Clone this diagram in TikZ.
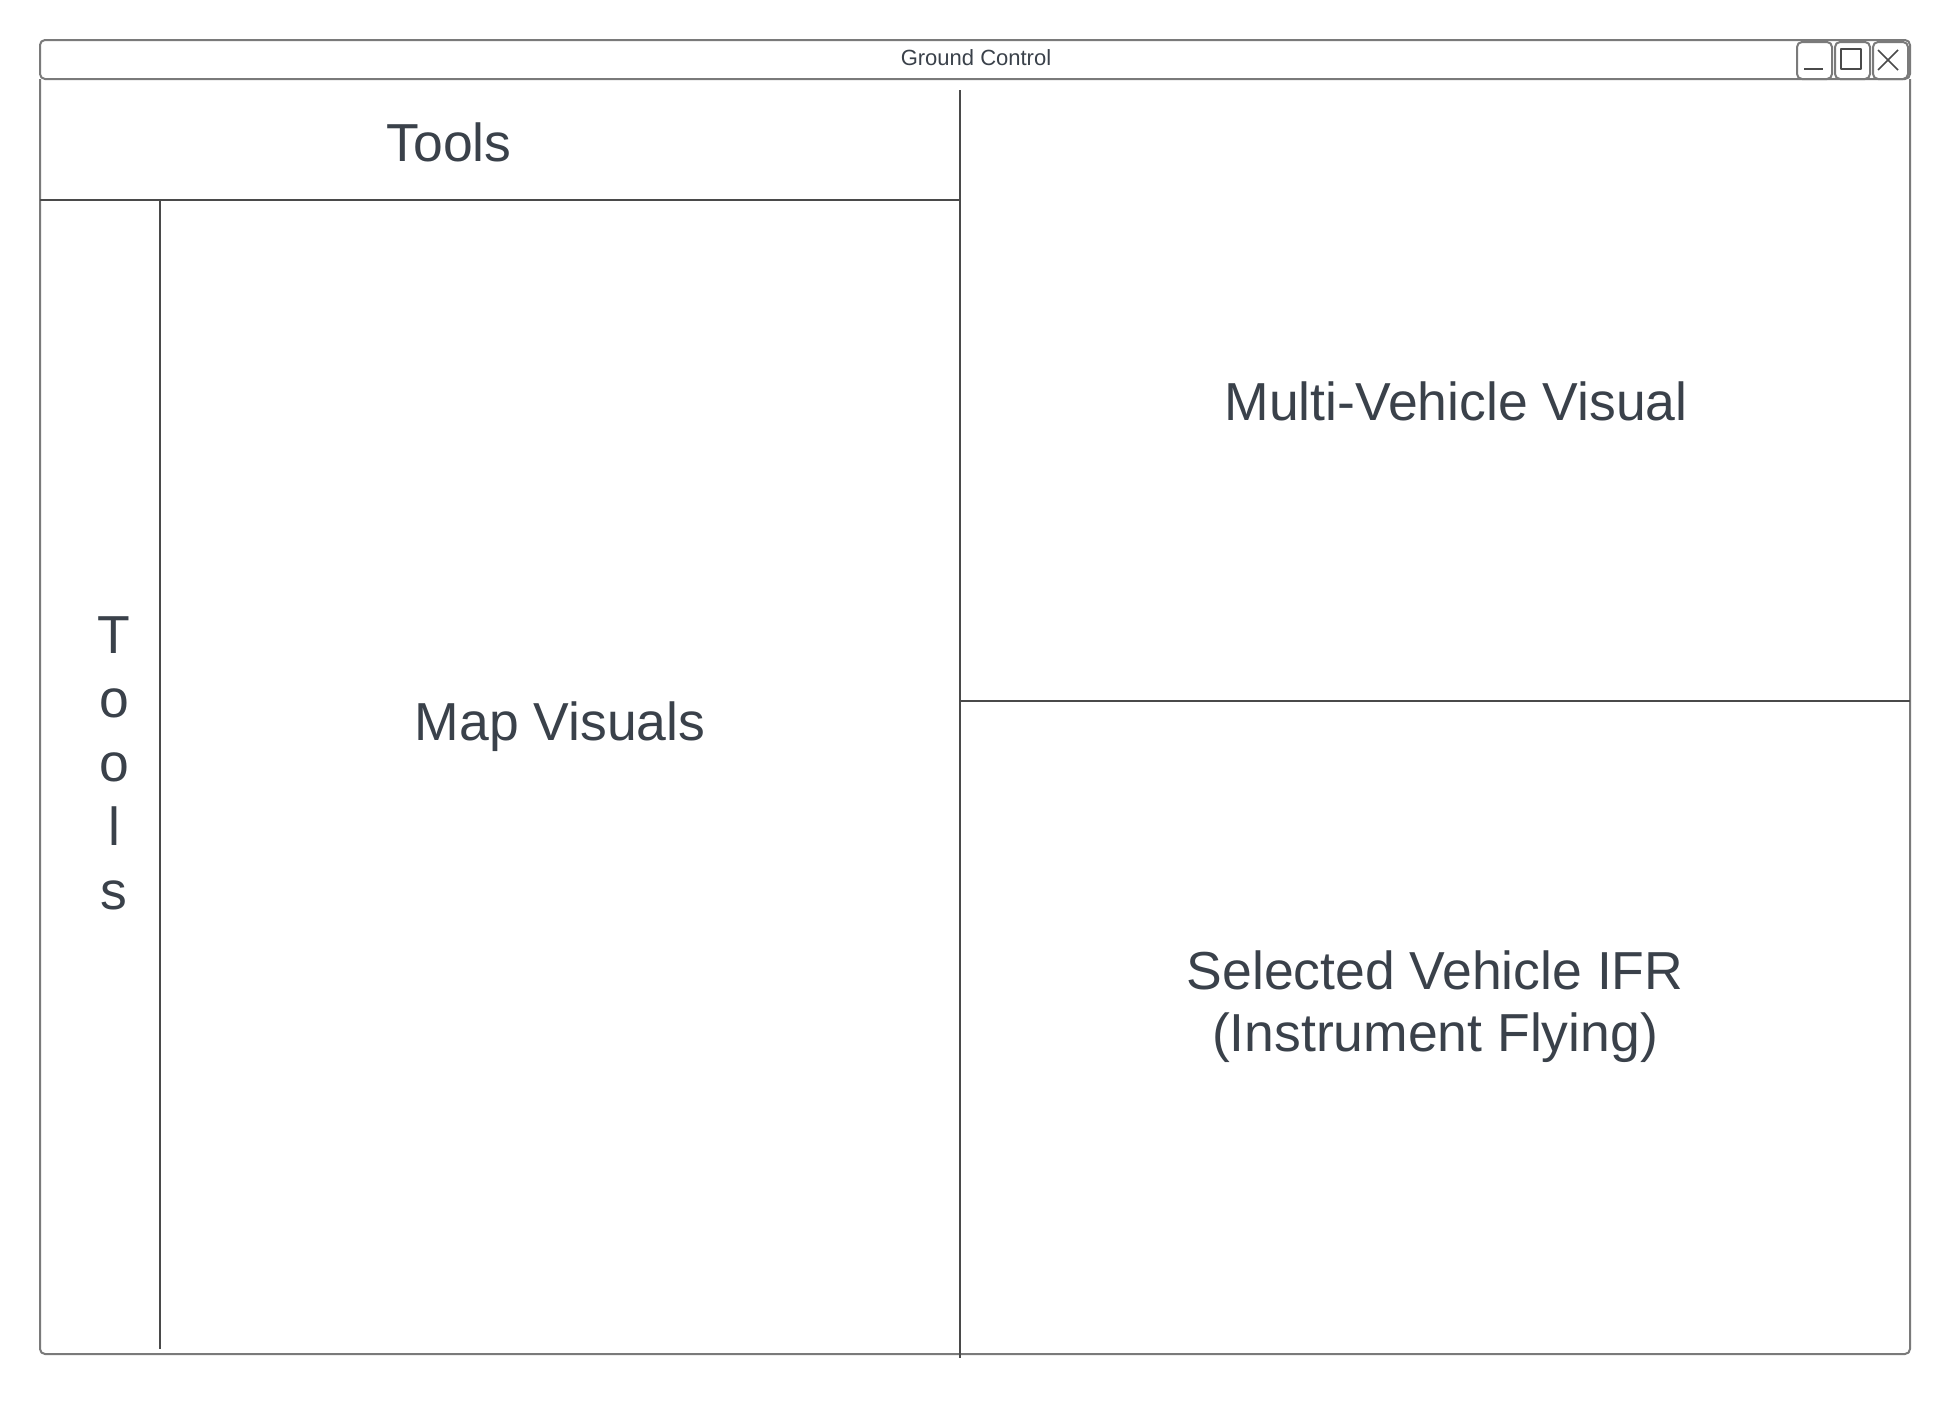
\documentclass[tikz,border=0pt]{standalone}
\usepackage{fontspec}
\setmainfont{Liberation Sans}
\usetikzlibrary{positioning}

\definecolor{ink}{HTML}{3A414A}
\definecolor{frame}{HTML}{7A7A7A}
\definecolor{rule}{HTML}{4A4A4A}

\begin{document}
\begin{tikzpicture}[x=1pt,y=-1pt,line join=round]
  \tikzstyle{pane text}=[text=ink,inner sep=0pt,font=\fontsize{53.5}{62}\selectfont]
  \tikzstyle{window}=[draw=frame,line width=2pt,rounded corners=5pt]
  \tikzstyle{divider}=[draw=rule,line width=1.5pt]
  \tikzstyle{button}=[draw=frame,fill=white,line width=2pt,rounded corners=5pt,inner sep=0pt]
  \tikzstyle{icon}=[draw=rule,line width=1.5pt]

  \fill[white] (0,0) rectangle (1951,1400);
  \useasboundingbox (0,0) rectangle (1951,1400);

  % window and title bar
  \draw[window] (40,79) -- (40,1354) -- (1910,1354) -- (1910,79);
  \draw[window] (40,40) rectangle (1910,79);
  \node[text=ink,font=\fontsize{22}{26}\selectfont,anchor=base] (title) at (976,65) {Ground Control};

  \node[button,minimum width=35pt,minimum height=37pt,anchor=north west] (minbtn) at (1796,41) {};
  \node[button,minimum width=35pt,minimum height=37pt,right=1pt of minbtn] (maxbtn) {};
  \node[button,minimum width=35pt,minimum height=37pt,right=1pt of maxbtn] (closebtn) {};
  \draw[icon] (1804,69) -- (1823,69);
  \draw[icon] (1841,49) rectangle (1861,69);
  \draw[icon] (1878,50) -- (1898,70) (1878,70) -- (1898,50);

  % panes
  \draw[divider] (40,200) -- (960,200);
  \draw[divider] (160,200) -- (160,1349);
  \draw[divider] (960,90) -- (960,1358);
  \draw[divider] (960,701) -- (1910,701);

  \node[pane text,anchor=base] (tools)  at (449,161)  {Tools};
  \node[pane text,align=center,font=\fontsize{53.5}{64}\selectfont] (side) at (114,763) {T\\o\\o\\l\\s};
  \node[pane text,anchor=base] (map)    at (560,740)  {Map Visuals};
  \node[pane text,anchor=base] (multi)  at (1456,420) {Multi-Vehicle Visual};
  \node[pane text,align=center] (ifr)   at (1435,1007) {Selected Vehicle IFR\\(Instrument Flying)};
\end{tikzpicture}
\end{document}
